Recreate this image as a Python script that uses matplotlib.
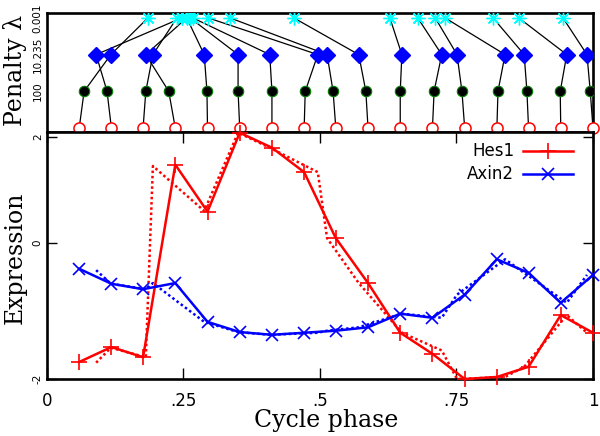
import numpy as np
import matplotlib
matplotlib.use("Agg")
import matplotlib.pyplot as plt

# === Données ===
# phases of the 17 samples at each penalty level (bottom -> top of the tree)
phase_true = [0.059, 0.118, 0.176, 0.235, 0.294, 0.353, 0.412, 0.471, 0.529,
              0.588, 0.647, 0.706, 0.765, 0.824, 0.882, 0.941, 1.0]
phase_l100 = [0.068, 0.110, 0.181, 0.223, 0.293, 0.350, 0.412, 0.473, 0.524,
              0.584, 0.647, 0.709, 0.760, 0.826, 0.879, 0.940, 0.995]
phase_l10 = [0.117, 0.090, 0.194, 0.181, 0.288, 0.350, 0.408, 0.496, 0.513,
             0.571, 0.650, 0.723, 0.751, 0.839, 0.874, 0.952, 0.989]
phase_l0 = [0.185, 0.247, 0.238, 0.256, 0.256, 0.262, 0.267, 0.295, 0.335,
            0.452, 0.628, 0.679, 0.711, 0.729, 0.817, 0.864, 0.945]
penalty_labels = ["100", "10.235", "0.001"]

# expression values (solid: at true phase, dotted: at estimated phase)
hes1 = [-1.75, -1.53, -1.68, 1.15, 0.46, 1.62, 1.40, 1.04, 0.07,
        -0.59, -1.32, -1.63, -2.0, -1.97, -1.82, -1.06, -1.32]
axin2 = [-0.38, -0.60, -0.68, -0.59, -1.16, -1.31, -1.35, -1.32, -1.29,
         -1.24, -1.04, -1.10, -0.76, -0.24, -0.44, -0.88, -0.47]
dot_phase = [0.090, 0.117, 0.181, 0.194, 0.288, 0.350, 0.408, 0.496, 0.513,
             0.571, 0.650, 0.723, 0.751, 0.839, 0.874, 0.952, 0.989]
hes1_dot = [-1.76, -1.54, -1.68, 1.13, 0.47, 1.62, 1.40, 1.04, 0.07,
            -0.59, -1.32, -1.58, -2.0, -1.97, -1.82, -1.06, -1.32]
axin2_dot = [-0.40, -0.60, -0.68, -0.59, -1.16, -1.31, -1.35, -1.32, -1.29,
             -1.24, -1.04, -1.10, -0.76, -0.24, -0.44, -0.88, -0.47]

xticks = [0, 0.25, 0.5, 0.75, 1]
xticklabels = ["0", ".25", ".5", ".75", "1"]

serif = "DejaVu Serif"

# === Figure ===
fig = plt.figure(figsize=(6, 4.36), dpi=100)
ax_top = fig.add_axes([0.0783, 0.697, 0.910, 0.273])
ax = fig.add_axes([0.0783, 0.1307, 0.910, 0.5665])

# --- arbre des pénalités ---
levels = [0, 1, 2, 3]
for i in range(len(phase_true)):
    ax_top.plot([phase_true[i], phase_l100[i], phase_l10[i], phase_l0[i]], levels,
                color="black", lw=0.9, zorder=1)
ax_top.plot(phase_true, [0] * len(phase_true), "o", ms=8, mfc="white", mec="red",
            mew=1.1, ls="none", clip_on=False, zorder=3)
ax_top.plot(phase_l100, [1] * len(phase_l100), "o", ms=7.5, mfc="black", mec="green",
            mew=0.8, ls="none", zorder=3)
ax_top.plot(phase_l10, [2] * len(phase_l10), "D", ms=8.5, color="blue", ls="none", zorder=3)
ax_top.plot(phase_l0, [3] * len(phase_l0), marker=(8, 2, 0), ms=10, color="cyan",
            mew=1.0, ls="none", zorder=3)

ax_top.set_xlim(0, 1)
ax_top.set_ylim(-0.11, 3.13)
ax_top.set_xticks([])
ax_top.set_yticks([1, 2, 3])
ax_top.set_yticklabels(penalty_labels, rotation=90, va="center", fontsize=7.5)
ax_top.tick_params(axis="y", length=0, pad=3)

# --- expression ---
ax.plot(phase_true, hes1, color="red", lw=1.8, marker="+", ms=11, mew=1.2,
        label="Hes1", clip_on=False, zorder=3)
ax.plot(phase_true, axin2, color="blue", lw=1.8, marker="x", ms=8, mew=1.2,
        label="Axin2", clip_on=False, zorder=3)
ax.plot(dot_phase, hes1_dot, color="red", lw=1.8, ls=(0, (1, 1.1)), clip_on=False, zorder=2)
ax.plot(dot_phase, axin2_dot, color="blue", lw=1.8, ls=(0, (1, 1.1)), clip_on=False, zorder=2)

ax.set_xlim(0, 1)
ax.set_ylim(-2.0, 1.63)
ax.set_xticks(xticks)
ax.set_xticklabels(xticklabels, fontsize=12)
ax.set_yticks([-2, 0, 1.56])
ax.set_yticklabels(["-2", "0", "2"], rotation=90, va="center", fontsize=7.5)
ax.tick_params(axis="x", direction="in", length=8, width=1, top=True, bottom=True, pad=9)
ax.tick_params(axis="y", direction="in", length=7, width=1, left=True, right=True, pad=3)

for a in (ax, ax_top):
    for s in a.spines.values():
        s.set_linewidth(1.9)

leg = ax.legend(loc="upper right", bbox_to_anchor=(0.975, 0.985), frameon=False,
                markerfirst=False, fontsize=12, handlelength=3.0, labelspacing=0.3,
                handletextpad=0.5, borderaxespad=0)

fig.text(15 / 600, 1 - 70 / 436, "Penalty λ", rotation=90, ha="center", va="center",
         family=serif, fontsize=17)
fig.text(15 / 600, 1 - 258 / 436, "Expression", rotation=90, ha="center", va="center",
         family=serif, fontsize=17)
fig.text(326 / 600, 1 - 420 / 436, "Cycle phase", ha="center", va="center",
         family=serif, fontsize=17)

fig.savefig("out.png", dpi=100)
